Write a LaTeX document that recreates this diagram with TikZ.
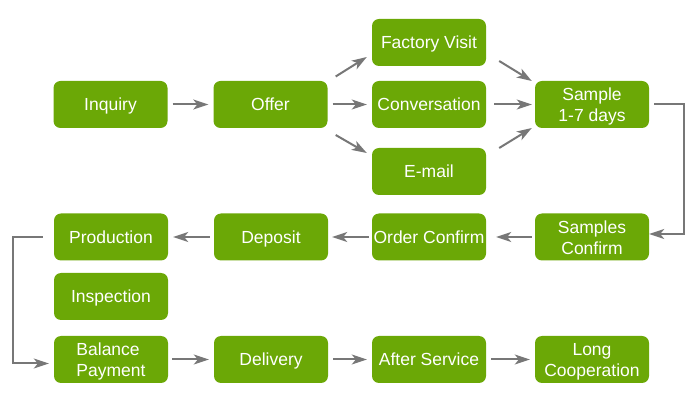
\documentclass[tikz,border=0pt]{standalone}
\usepackage{fontspec}
\setmainfont{Liberation Sans}
\usetikzlibrary{arrows.meta}
\definecolor{boxgreen}{HTML}{6BA806}
\definecolor{arrgray}{HTML}{777777}
\begin{document}
\begin{tikzpicture}[x=1pt, y=1pt,
        step box/.style={fill=boxgreen, rounded corners=7pt, minimum width=114pt, minimum height=47pt, inner sep=0pt, text=white, align=center, text height=12.5pt, text depth=0pt, font=\fontsize{17.5}{21}\selectfont},
        two lines/.style={text height=34.5pt, text depth=0pt},
        arr/.style={draw=arrgray, line width=2pt, -{Stealth[length=15pt, width=10pt, inset=4pt]}, shorten <=5pt, shorten >=5pt}]
    \useasboundingbox (0, 0) rectangle (697, -403);

    \node (inquiry) [step box] at (110.5, -104.5) {Inquiry};
    \node (offer) [step box] at (270.5, -104.5) {Offer};
    \node (factory) [step box] at (429, -42.5) {Factory Visit};
    \node (conversation) [step box] at (429, -104.5) {Conversation};
    \node (email) [step box] at (429, -171.5) {E-mail};
    \node (sample) [step box, two lines] at (592, -104.5) {Sample\\1-7 days};
    \node (samplesconfirm) [step box, two lines] at (592, -237) {Samples\\Confirm};
    \node (orderconfirm) [step box] at (429, -237) {Order Confirm};
    \node (deposit) [step box] at (271, -237) {Deposit};
    \node (production) [step box] at (111, -237) {Production};
    \node (inspection) [step box] at (111, -296.5) {Inspection};
    \node (balance) [step box, two lines, align=left] at (111, -359.5) {Balance\\Payment};
    \node (delivery) [step box] at (271, -359.5) {Delivery};
    \node (afterservice) [step box] at (429, -359.5) {After Service};
    \node (longcoop) [step box, two lines] at (592, -359.5) {Long\\Cooperation};

    \draw[arr] (inquiry) -- (offer);
    \draw[arr] (offer) -- (conversation);
    \draw[arr, shorten <=0pt, shorten >=0pt] ([shift={(8, 28)}]offer.east) -- ([shift={(-5, -14.5)}]factory.west);
    \draw[arr, shorten <=0pt, shorten >=0pt] ([shift={(8, -30.5)}]offer.east) -- ([shift={(-5, 18.5)}]email.west);
    \draw[arr, shorten <=0pt, shorten >=0pt] ([shift={(13, -18.5)}]factory.east) -- ([shift={(-3, 23.5)}]sample.west);
    \draw[arr, shorten <=8pt, shorten >=3pt] (conversation) -- (sample);
    \draw[arr, shorten <=0pt, shorten >=0pt] ([shift={(13, 23.5)}]email.east) -- ([shift={(-3, -23.5)}]sample.west);
    \draw[arr, shorten >=0pt] (sample.east) -- ++(35, 0) |- ([yshift=3pt]samplesconfirm.east);
    \draw[arr, shorten <=3pt, shorten >=10pt] (samplesconfirm) -- (orderconfirm);
    \draw[arr, shorten <=3pt, shorten >=4pt] (orderconfirm) -- (deposit);
    \draw[arr, shorten <=4pt, shorten >=5pt] (deposit) -- (production);
    \draw[arr, shorten <=11pt] (production.west) -- ++(-41, 0) |- ([yshift=-4pt]balance.west);
    \draw[arr, shorten <=4pt] (balance) -- (delivery);
    \draw[arr] (delivery) -- (afterservice);
    \draw[arr] (afterservice) -- (longcoop);
\end{tikzpicture}
\end{document}
